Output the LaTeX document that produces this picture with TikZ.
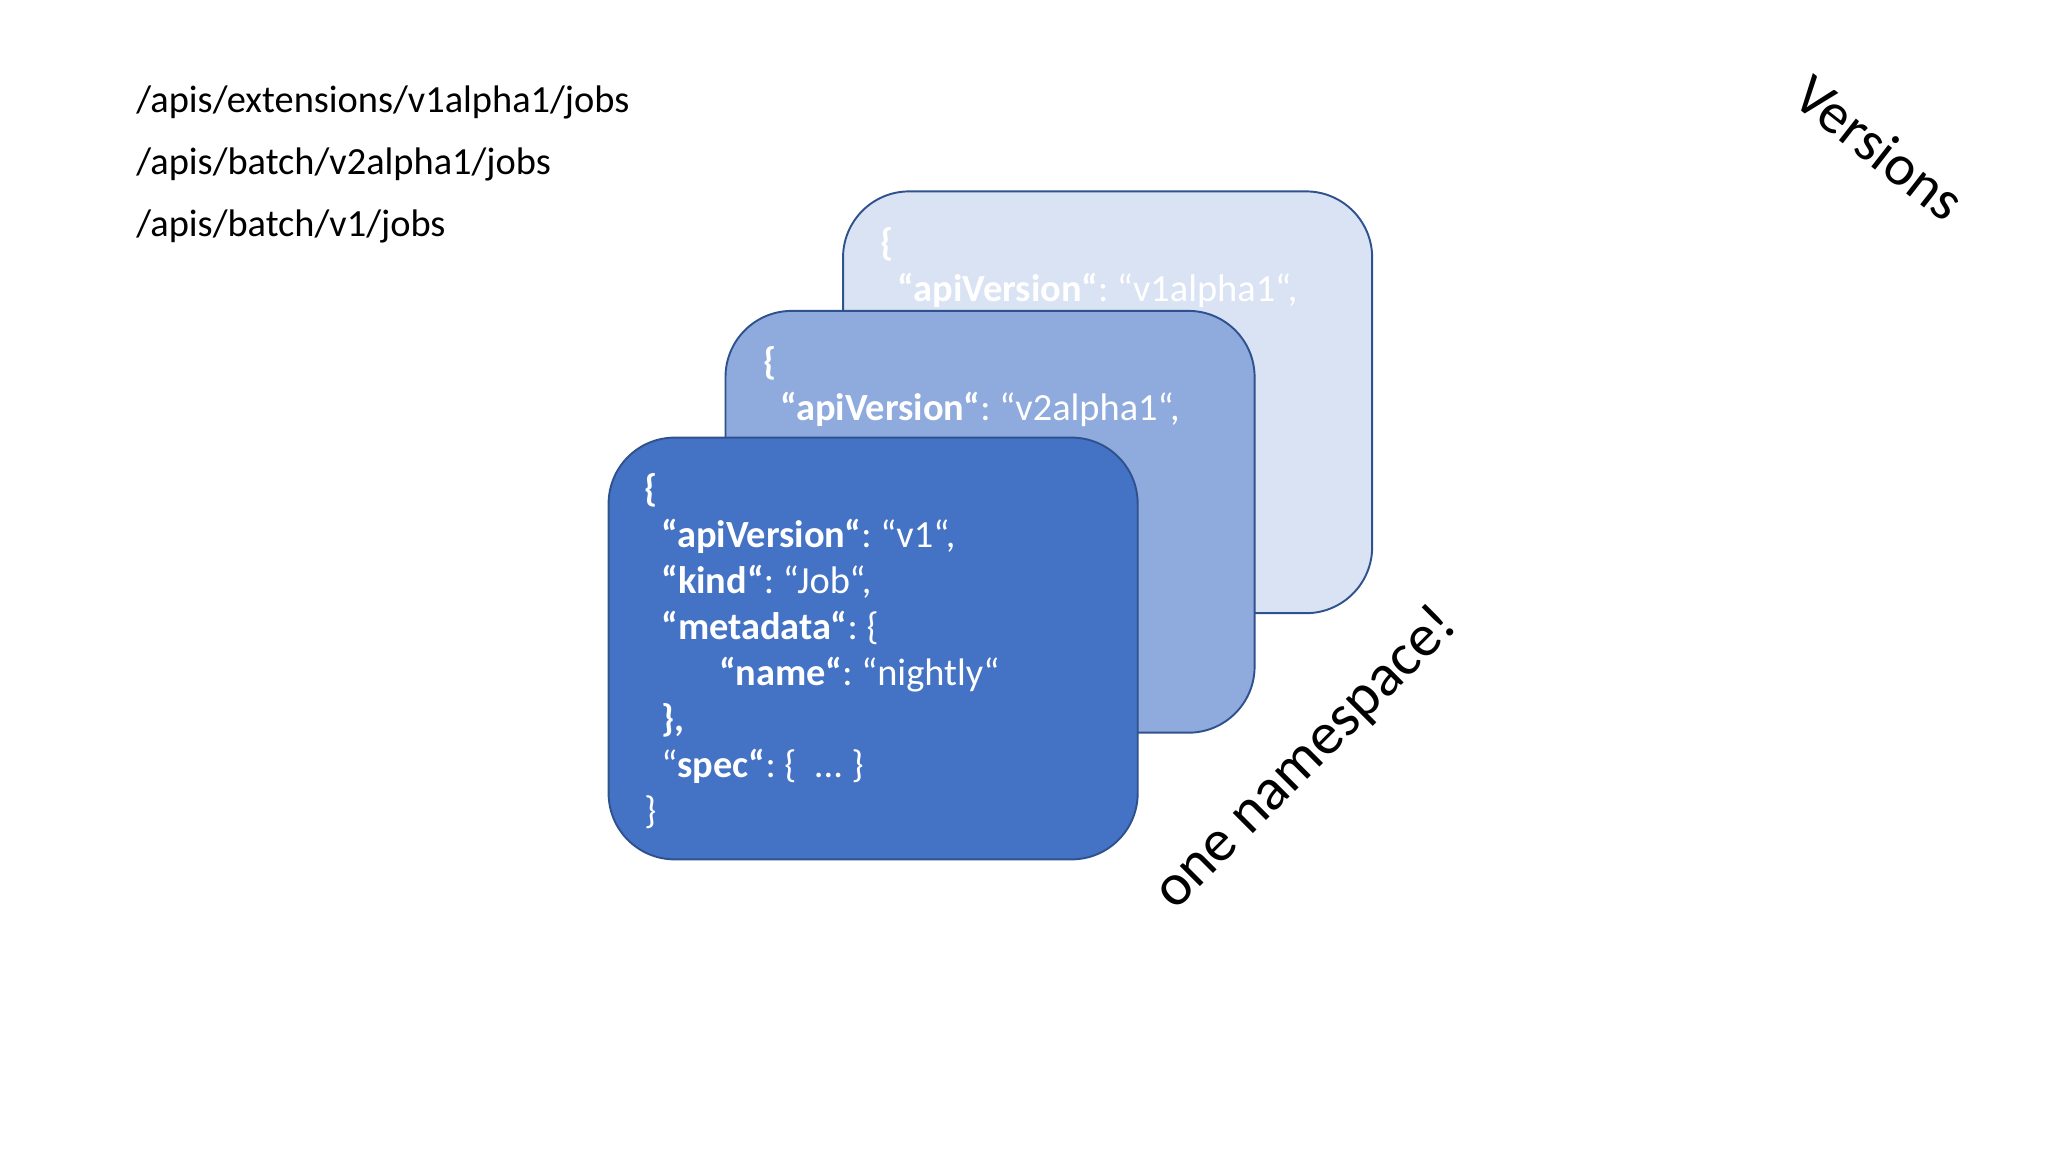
\documentclass[tikz,border=0pt]{standalone}
\usepackage{fontspec}
\setmainfont{Carlito}
\frenchspacing
\usetikzlibrary{positioning}
\definecolor{backfill}{HTML}{DAE3F3}
\definecolor{midfill}{HTML}{8FAADC}
\definecolor{frontfill}{HTML}{4472C4}
\definecolor{cardedge}{HTML}{2F528F}
\begin{document}
\begin{tikzpicture}[
  x=0.6122pt, y=-0.6122pt,
  card/.style={draw=cardedge,line width=0.9pt,rounded corners=31pt,
    minimum width=248pt,minimum height=197.7pt,inner sep=0pt},
  json/.style={text=white,align=left,anchor=north west,inner sep=0pt,
    font=\fontsize{18}{21.6}\selectfont},
  bigword/.style={font=\fontsize{27}{32}\selectfont,inner sep=0pt}
]
  \useasboundingbox (0,0) rectangle (1568,882);

  % URL paths
  \node[anchor=north west,align=left,inner sep=0pt,
    font=\fontsize{18}{29}\selectfont] (paths) at (104,65.5)
    {/apis/extensions/v1alpha1/jobs\\
     /apis/batch/v2alpha1/jobs\\
     /apis/batch/v1/jobs};

  % stacked cards, back to front
  \node[card,fill=backfill] (cardA) at (848,308) {};
  \node[json] (textA) at ([xshift=18pt,yshift=-17pt]cardA.north west)
    {\textbf{\{}\\
     \hspace*{8pt}\textbf{“apiVersion“}: “v1alpha1“,};

  \node[card,fill=midfill] (cardB) at (758,399.5) {};
  \node[json] (textB) at ([xshift=18pt,yshift=-17pt]cardB.north west)
    {\textbf{\{}\\
     \hspace*{8pt}\textbf{“apiVersion“}: “v2alpha1“,};

  \node[card,fill=frontfill] (cardC) at (668.5,496.5) {};
  \node[json] (textC) at ([xshift=17pt,yshift=-17pt]cardC.north west)
    {\textbf{\{}\\
     \hspace*{8pt}\textbf{“apiVersion“}: “v1“,\\
     \hspace*{8pt}\textbf{“kind“}: “Job“,\\
     \hspace*{8pt}\textbf{“metadata“}: \{\\
     \hspace*{35pt}\textbf{“name“}: “nightly“\\
     \hspace*{8pt}\textbf{\},}\\
     \hspace*{8pt}“\textbf{spec“}: \{\ \ ...\ \}\\
     \}};

  % rotated labels
  \node[bigword,rotate=-38] (versions) at (1439,113) {Versions};
  \node[bigword,rotate=45,font=\fontsize{28}{33}\selectfont] (onens)
    at (1000,581) {one namespace!};
\end{tikzpicture}
\end{document}
